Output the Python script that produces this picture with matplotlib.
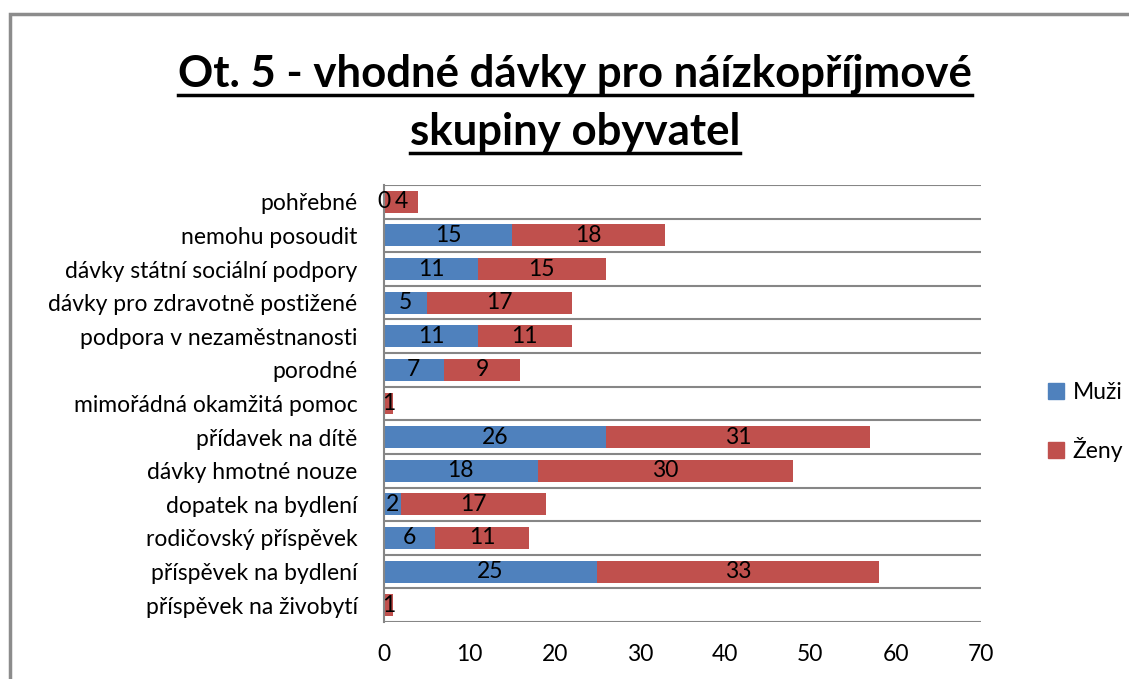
import matplotlib.pyplot as plt
import numpy as np
from matplotlib.patches import Rectangle, Patch
from matplotlib.lines import Line2D

# Data (bottom to top, as drawn)
categories = ['příspěvek na živobytí', 'příspěvek na bydlení', 'rodičovský příspěvek',
              'dopatek na bydlení', 'dávky hmotné nouze', 'přídavek na dítě',
              'mimořádná okamžitá pomoc', 'porodné', 'podpora v nezaměstnanosti',
              'dávky pro zdravotně postižené', 'dávky státní sociální podpory',
              'nemohu posoudit', 'pohřebné']
muzi = [0, 25, 6, 2, 18, 26, 0, 7, 11, 5, 11, 15, 0]
zeny = [1, 33, 11, 17, 30, 31, 1, 9, 11, 17, 15, 18, 4]
xticks = [0, 10, 20, 30, 40, 50, 60, 70]

plt.rcParams['font.family'] = ['Lato', 'DejaVu Sans']
fs = 16.5

fig = plt.figure(figsize=(11.29, 6.79), dpi=100)
W, H = 1129, 679

# chart area frame (partially cropped in the reference)
fig.patches.append(Rectangle((10 / W, -0.1), 1.2, 1 - 14 / H + 0.1, transform=fig.transFigure,
                             fill=False, edgecolor='#8c8c8c', linewidth=2.5))

ax = fig.add_axes([384 / W, 1 - 622 / H, (981 - 384) / W, (622 - 185) / H])

y = np.arange(len(categories))
c_m, c_z = '#4F81BD', '#C0504D'
ax.barh(y, muzi, height=0.65, color=c_m, label='Muži')
ax.barh(y, zeny, left=muzi, height=0.65, color=c_z, label='Ženy')

for i in range(len(categories)):
    # a zero label hidden under a tiny neighbouring label is not shown in the reference
    if muzi[i] > 0 or zeny[i] > 2:
        ax.text(muzi[i] / 2, y[i], str(muzi[i]), ha='center', va='center', fontsize=fs)
    ax.text(muzi[i] + zeny[i] / 2, y[i], str(zeny[i]), ha='center', va='center', fontsize=fs)

ax.set_xlim(0, 70)
ax.set_ylim(-0.5, len(categories) - 0.5)
ax.set_xticks(xticks)
ax.set_yticks(y)
ax.set_yticklabels(categories)
ax.set_yticks(np.arange(-0.5, len(categories)), minor=True)
ax.grid(True, which='minor', axis='y', color='#868686', linewidth=1.5)
ax.tick_params(axis='y', which='minor', length=0)
ax.tick_params(axis='y', which='major', length=0, pad=19, labelsize=fs)
ax.tick_params(axis='x', length=0, pad=16, labelsize=fs)
for s in ['top', 'right', 'bottom']:
    ax.spines[s].set_visible(False)
ax.spines['left'].set_color('#868686')
ax.spines['left'].set_linewidth(1.5)
ax.set_axisbelow(True)

# legend
handles = [Patch(color=c_m, label='Muži'), Patch(color=c_z, label='Ženy')]
fig.legend(handles=handles, loc='center left', bbox_to_anchor=(1027 / W, 1 - 422 / H),
           frameon=False, fontsize=fs, handlelength=0.7, handleheight=0.7,
           handletextpad=0.4, labelspacing=1.5)

# title, two underlined lines
t1 = fig.text(575 / W, 1 - 74 / H, 'Ot. 5 - vhodné dávky pro náízkopříjmové',
              ha='center', va='center', fontsize=31.5, fontweight='bold')
t2 = fig.text(575 / W, 1 - 132 / H, 'skupiny obyvatel',
              ha='center', va='center', fontsize=31.5, fontweight='bold')
fig.canvas.draw()
r = fig.canvas.get_renderer()
for t in (t1, t2):
    bb = t.get_window_extent(r)
    yy = (bb.y0 - 1) / H
    fig.lines.append(Line2D([bb.x0 / W, bb.x1 / W], [yy, yy], transform=fig.transFigure,
                            color='black', linewidth=2.5))

fig.savefig('out.png', dpi=100)
